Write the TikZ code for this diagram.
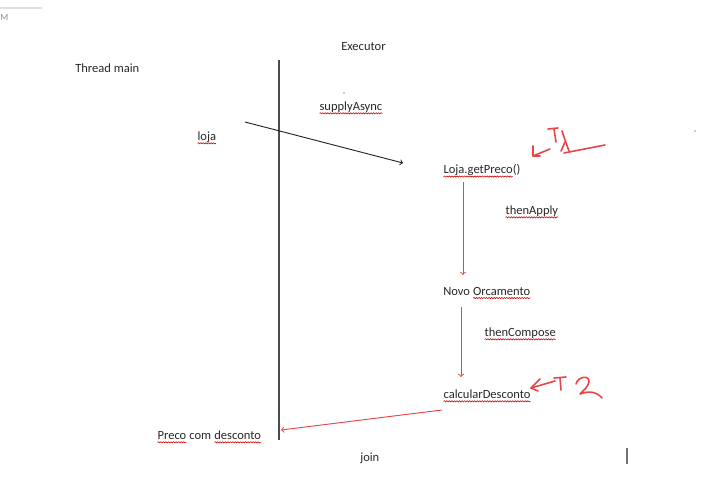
\documentclass[tikz,border=0pt]{standalone}
\usepackage{fontspec}
\setmainfont{Carlito}
\usetikzlibrary{positioning,decorations.pathmorphing}
\definecolor{txtgray}{RGB}{40,40,40}
\definecolor{pen}{RGB}{232,70,70}
\newcommand\spl[1]{\tikz[baseline=(w.base)]{\node[inner sep=0pt,outer sep=0pt] (w) {#1};
  \draw[red!85!black,line width=0.45pt,decorate,decoration={snake,amplitude=0.45pt,segment length=1.9pt}]
  ([yshift=-2.1pt]w.base west) -- ([yshift=-2.1pt]w.base east);}}
\begin{document}
\begin{tikzpicture}[x=0.75pt,y=-0.75pt,
  lbl/.style={inner sep=0pt,anchor=west,text=txtgray,font=\fontsize{9.4}{11}\selectfont},
  blk/.style={draw=black!85,line width=0.7pt},
  redarr/.style={draw=pen,line width=0.7pt,->},
  hand/.style={draw=pen,line width=1.2pt,line cap=round,line join=round}]
\useasboundingbox[fill=white] (0,0) rectangle (704,500);
% screenshot leftovers
\draw[black!12,line width=1pt] (0,8) -- (42,8);
\node[lbl,text=black!45,font=\fontsize{7}{8}\selectfont] (m) at (0,18) {M};
\fill[black!40] (344,93) circle (0.8);
\fill[black!40] (695,131) circle (0.8);
\draw[black!55,line width=1.3pt] (627,448) -- (627,464);
% the two sides
\node[lbl] (ex) at (341,47) {Executor};
\node[lbl] (tm) at (75,68) {Thread main};
\coordinate (top) at (279,60);
\coordinate (bot) at (279,440);
\draw[black!70,line width=0.8pt] (top) -- (bot);
% texts
\node[lbl] (sa) at (319,108) {\spl{supplyAsync}};
\node[lbl] (lj) at (197,138) {\spl{loja}};
\node[lbl] (gp) at (443,171) {\spl{Loja.getPreco}()};
\node[lbl] (ta) at (505,212) {\spl{thenApply}};
\node[lbl] (no) at (443,293) {Novo \spl{Orcamento}};
\node[lbl] (tc) at (484,334) {\spl{thenCompose}};
\node[lbl] (cd) at (443,396) {\spl{calcularDesconto}};
\node[lbl] (pd) at (157,437) {\spl{Preco} com \spl{desconto}};
\node[lbl] (jn) at (360,458) {join};
% arrows
\coordinate (s1) at (245,122);
\coordinate (e1) at (403,163);
\draw[blk,->] (s1) -- (e1);
\coordinate (s2) at (463,182);
\coordinate (e2) at (463,275);
\draw[redarr] (s2) -- (e2);
\coordinate (s3) at (461,307);
\coordinate (e3) at (461,377);
\draw[redarr] (s3) -- (e3);
\coordinate (s4) at (442,410);
\coordinate (e4) at (281,430);
\draw[redarr] (s4) -- (e4);
% handwritten T1
\draw[hand] (533,146) -- (533,156) -- (540,156);
\draw[hand] (533,156) -- (550,149);
\draw[hand] (548,129) -- (558,128);
\draw[hand] (554,129) -- (556,142);
\draw[hand] (562,131) .. controls (565,140) .. (569,151);
\draw[hand] (565,142) -- (561,151);
\draw[hand] (564,153) -- (605,145);
% handwritten T2
\draw[hand] (540,379) -- (531,388) -- (538,391);
\draw[hand] (531,388) -- (555,381);
\draw[hand] (554,378) -- (566,377);
\draw[hand] (560,378) -- (561,390);
\draw[hand] (576,384) .. controls (578,376) and (590,375) .. (589,382)
  .. controls (588,387) and (583,391) .. (580,394)
  .. controls (588,391) and (596,391) .. (602,398);
\end{tikzpicture}
\end{document}
